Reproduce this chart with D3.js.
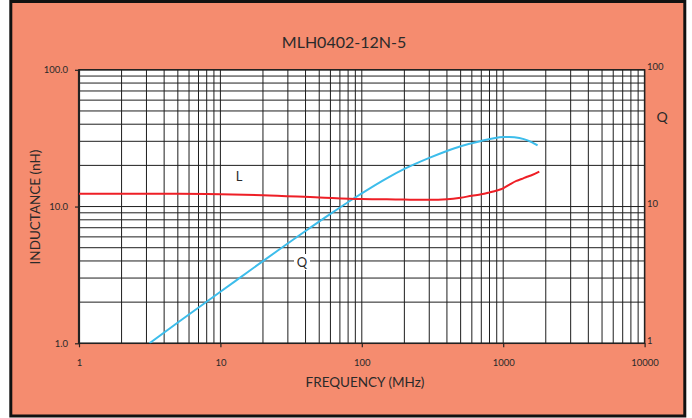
<!DOCTYPE html>
<html>
<head>
<meta charset="utf-8">
<script src="https://cdn.jsdelivr.net/npm/d3@7"></script>
<style>
  html, body { margin: 0; padding: 0; background: #ffffff; }
  svg { display: block; }
  text { font-family: Lato, "Open Sans", sans-serif; fill: #2a2a2a; }
</style>
</head>
<body>
<svg id="chart" width="692" height="418"></svg>
<script>
// ---- data ----
const chartTitle = "MLH0402-12N-5";
const xTicks = [1, 10, 100, 1000, 10000];
const yTicksL = [1, 10, 100];
const yTicksQ = [1, 10, 100];

// Inductance L (nH) vs frequency (MHz)
const freqL = [1, 2, 5, 10, 20, 50, 100, 150, 200, 300, 400, 500, 600, 700, 800, 900, 1000, 1100, 1240, 1350, 1475, 1600, 1800];
const valL  = [12.4, 12.4, 12.4, 12.3, 12.1, 11.65, 11.35, 11.3, 11.25, 11.2, 11.3, 11.6, 12.0, 12.3, 12.7, 13.1, 13.6, 14.4, 15.4, 15.9, 16.5, 17.0, 18.0];

// Quality factor Q vs frequency (MHz)
const freqQ = [3.15, 5, 10, 20, 40, 60, 87, 100, 150, 200, 300, 400, 500, 700, 1000, 1100, 1200, 1400, 1600, 1750];
const valQ  = [1.0, 1.42, 2.38, 3.99, 6.62, 8.83, 11.4, 12.5, 16.1, 18.85, 22.7, 25.5, 27.6, 30.2, 32.2, 32.3, 32.1, 31.1, 29.5, 28.0];

// ---- drawing ----
const svg = d3.select("#chart");

// outer frame + salmon background
svg.append("rect")
  .attr("x", 10.8).attr("y", 1.5).attr("width", 674).attr("height", 414.5)
  .attr("fill", "#F58C6F").attr("stroke", "#111").attr("stroke-width", 3);

const x = d3.scaleLog().domain([1, 10000]).range([79, 644.6]);
const y = d3.scaleLog().domain([1, 100]).range([343.3, 69.8]);
const yQ = d3.scaleLog().domain([1, 100]).range([343.3, 69.8]);

// plot area
svg.append("rect")
  .attr("x", x.range()[0]).attr("y", y.range()[1])
  .attr("width", x.range()[1] - x.range()[0])
  .attr("height", y.range()[0] - y.range()[1])
  .attr("fill", "#ffffff");

// grid values
const xGrid = [];
for (let d = 1; d < 10000; d *= 10) for (let k = 1; k <= 9; k++) xGrid.push(d * k);
xGrid.push(10000);
const yGrid = [];
for (let d = 1; d < 100; d *= 10) for (let k = 1; k <= 9; k++) yGrid.push(d * k);
yGrid.push(100);

const grid = svg.append("g").attr("stroke", "#1e1e1e").attr("stroke-width", 1);
grid.selectAll("line.v").data(xGrid).join("line").attr("class", "v")
  .attr("x1", d => x(d)).attr("x2", d => x(d))
  .attr("y1", y.range()[1]).attr("y2", y.range()[0]);
grid.selectAll("line.h").data(yGrid).join("line").attr("class", "h")
  .attr("x1", x.range()[0]).attr("x2", x.range()[1])
  .attr("y1", d => y(d)).attr("y2", d => y(d));

// plot border
svg.append("rect")
  .attr("x", x.range()[0]).attr("y", y.range()[1])
  .attr("width", x.range()[1] - x.range()[0])
  .attr("height", y.range()[0] - y.range()[1])
  .attr("fill", "none").attr("stroke", "#222").attr("stroke-width", 1.5);
svg.append("line")
  .attr("x1", x.range()[0]).attr("x2", x.range()[0])
  .attr("y1", y.range()[1]).attr("y2", y.range()[0])
  .attr("stroke", "#222").attr("stroke-width", 2.2);

// axes
const axL = svg.append("g").attr("transform", `translate(${x.range()[0]},0)`)
  .call(d3.axisLeft(y).tickValues(yTicksL).tickFormat(d3.format(".1f")).tickSize(4).tickPadding(7));
const axR = svg.append("g").attr("transform", `translate(${x.range()[1]},0)`)
  .call(d3.axisRight(yQ).tickValues(yTicksQ).tickFormat(d3.format("d")).tickSize(0).tickPadding(2.5));
const axB = svg.append("g").attr("transform", `translate(0,${y.range()[0]})`)
  .call(d3.axisBottom(x).tickValues(xTicks).tickFormat(d3.format("d")).tickSize(4).tickPadding(12));
[axL, axR, axB].forEach(a => {
  a.select(".domain").remove();
  a.selectAll("line").attr("stroke", "#222").attr("stroke-width", 1.2);
  a.selectAll("text").attr("font-size", 9.5).attr("fill", "#2a2a2a")
    .style("font-family", "Lato, 'Open Sans', sans-serif");
});
axR.selectAll("text").attr("dy", "0.0em");

// clip for curves
svg.append("clipPath").attr("id", "plotclip").append("rect")
  .attr("x", x.range()[0]).attr("y", y.range()[1])
  .attr("width", x.range()[1] - x.range()[0])
  .attr("height", y.range()[0] - y.range()[1]);

const lineL = d3.line().x((d, i) => x(freqL[i])).y(d => y(d)).curve(d3.curveMonotoneX);
const lineQ = d3.line().x((d, i) => x(freqQ[i])).y(d => yQ(d)).curve(d3.curveMonotoneX);

const curves = svg.append("g").attr("clip-path", "url(#plotclip)");
curves.append("path").datum(valQ).attr("d", lineQ)
  .attr("fill", "none").attr("stroke", "#3DBDEB").attr("stroke-width", 2);
curves.append("path").datum(valL).attr("d", lineL)
  .attr("fill", "none").attr("stroke", "#EE1F26").attr("stroke-width", 2);

// in-plot labels with white background
function boxLabel(txt, cx, cy) {
  svg.append("rect").attr("x", cx - 8).attr("y", cy - 8).attr("width", 16).attr("height", 16).attr("fill", "#fff");
  svg.append("text").attr("x", cx).attr("y", cy).attr("dy", "0.36em")
    .attr("text-anchor", "middle").attr("font-size", 13).text(txt);
}
boxLabel("L", 239, 176.5);
boxLabel("Q", 302, 262);

// titles
svg.append("text").attr("x", 344).attr("y", 48).attr("text-anchor", "middle")
  .attr("font-size", 16).text(chartTitle);
svg.append("text").attr("x", 365).attr("y", 387).attr("text-anchor", "middle")
  .attr("font-size", 13.5).text("FREQUENCY (MHz)");
svg.append("text").attr("transform", "translate(40,207) rotate(-90)")
  .attr("text-anchor", "middle").attr("font-size", 13.5).text("INDUCTANCE (nH)");
svg.append("text").attr("x", 662).attr("y", 122).attr("text-anchor", "middle")
  .attr("font-size", 14).text("Q");
</script>
</body>
</html>
